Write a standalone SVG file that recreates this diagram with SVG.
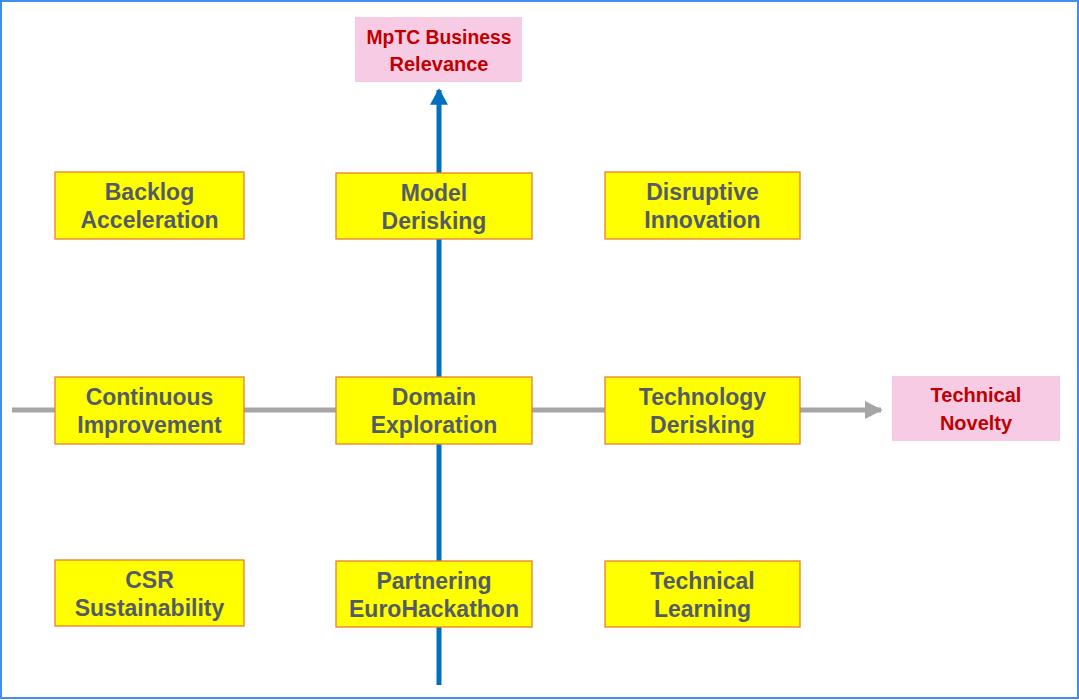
<svg xmlns="http://www.w3.org/2000/svg" width="1079" height="700" viewBox="0 0 1079 700">
<defs>
<style>
.box{fill:#ffff00;stroke:#ed7d31;stroke-width:1.3}
.pink{fill:#f8cbe5;stroke:none}
.t{font-family:"Liberation Sans",Arial,sans-serif;font-weight:bold;font-size:23px;fill:#545b68;text-anchor:middle}
.r{font-family:"Liberation Sans",Arial,sans-serif;font-weight:bold;font-size:20px;fill:#c00000;text-anchor:middle}
</style>
<marker id="ah-gray" viewBox="0 0 10 10" refX="9" refY="5" markerWidth="3.6" markerHeight="3.6" orient="auto" markerUnits="strokeWidth">
<path d="M0,0 L10,5 L0,10 Z" fill="#a6a6a6"/>
</marker>
<marker id="ah-blue" viewBox="0 0 10 11" refX="9" refY="5.5" markerWidth="3.3" markerHeight="3.7" orient="auto" markerUnits="strokeWidth">
<path d="M0,0 L10,5.5 L0,11 Z" fill="#0070c0"/>
</marker>
</defs>
<rect x="0" y="0" width="1079" height="700" fill="#ffffff"/>
<rect x="1" y="1" width="1077" height="697" fill="none" stroke="#3f8ef0" stroke-width="2"/>
<g id="connectors">
<line x1="12" y1="410" x2="881" y2="410" stroke="#a6a6a6" stroke-width="5" marker-end="url(#ah-gray)"/>
<line x1="439" y1="685" x2="439" y2="90" stroke="#0070c0" stroke-width="5" marker-end="url(#ah-blue)"/>
</g>
<g id="mptc">
<rect class="pink" x="355" y="17" width="167" height="65"/>
<text class="r" x="439" y="44" textLength="145" lengthAdjust="spacingAndGlyphs">MpTC Business</text>
<text class="r" x="439" y="71">Relevance</text>
</g>
<g id="novelty">
<rect class="pink" x="892" y="376" width="168" height="65"/>
<text class="r" x="976" y="402">Technical</text>
<text class="r" x="976" y="430">Novelty</text>
</g>
<g id="backlog">
<rect class="box" x="55" y="172" width="189" height="67"/>
<text class="t" x="149.5" y="200">Backlog</text>
<text class="t" x="149.5" y="228">Acceleration</text>
</g>
<g id="model">
<rect class="box" x="336" y="173" width="196" height="66"/>
<text class="t" x="434" y="201">Model</text>
<text class="t" x="434" y="229">Derisking</text>
</g>
<g id="disruptive">
<rect class="box" x="605" y="172" width="195" height="67"/>
<text class="t" x="702.5" y="200">Disruptive</text>
<text class="t" x="702.5" y="228">Innovation</text>
</g>
<g id="continuous">
<rect class="box" x="55" y="377" width="189" height="67"/>
<text class="t" x="149.5" y="405">Continuous</text>
<text class="t" x="149.5" y="433">Improvement</text>
</g>
<g id="domain">
<rect class="box" x="336" y="377" width="196" height="67"/>
<text class="t" x="434" y="405">Domain</text>
<text class="t" x="434" y="433">Exploration</text>
</g>
<g id="technology">
<rect class="box" x="605" y="377" width="195" height="67"/>
<text class="t" x="702.5" y="405">Technology</text>
<text class="t" x="702.5" y="433">Derisking</text>
</g>
<g id="csr">
<rect class="box" x="55" y="560" width="189" height="66"/>
<text class="t" x="149.5" y="588">CSR</text>
<text class="t" x="149.5" y="616">Sustainability</text>
</g>
<g id="partnering">
<rect class="box" x="336" y="561" width="196" height="66"/>
<text class="t" x="434" y="589">Partnering</text>
<text class="t" x="434" y="617">EuroHackathon</text>
</g>
<g id="learning">
<rect class="box" x="605" y="561" width="195" height="66"/>
<text class="t" x="702.5" y="589">Technical</text>
<text class="t" x="702.5" y="617">Learning</text>
</g>
</svg>
